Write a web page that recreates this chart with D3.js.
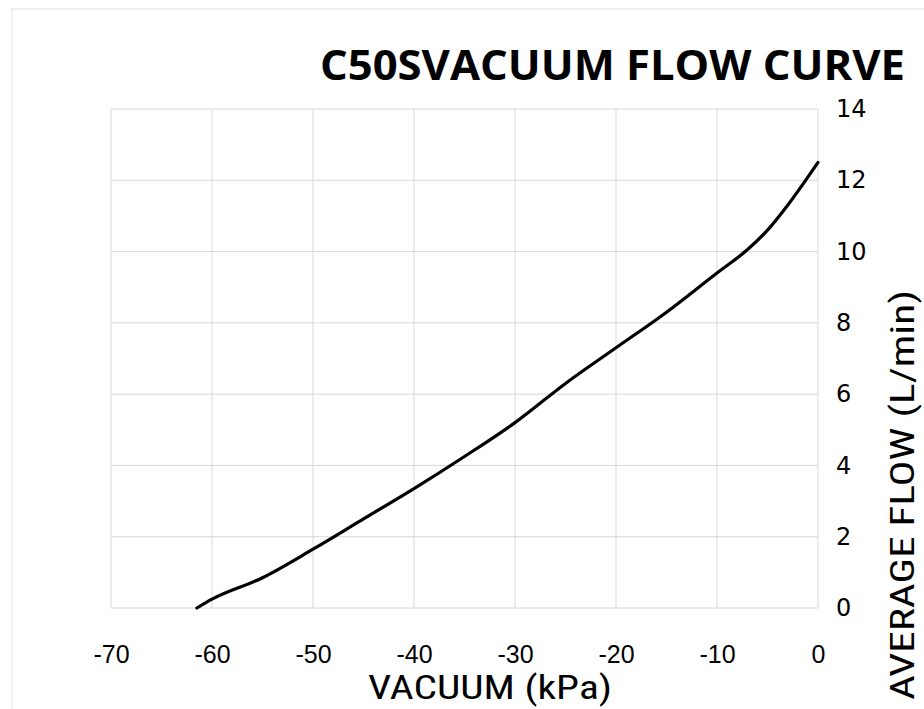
<!DOCTYPE html>
<html>
<head>
<meta charset="utf-8">
<script src="https://cdn.jsdelivr.net/npm/d3@7"></script>
<style>
  body { margin: 0; background: #fff; }
  svg { display: block; }
</style>
</head>
<body>
<svg id="chart" width="924" height="709"></svg>
<script>
// vacuum (kPa) and average flow (L/min)
const vacuum = [-61.5, -60, -55, -50, -45, -40, -35, -30, -25, -20, -15, -10, -7, -5, -3, 0];
const flow   = [0, 0.25, 0.85, 1.65, 2.5, 3.35, 4.25, 5.2, 6.3, 7.3, 8.3, 9.4, 10.05, 10.6, 11.3, 12.5];
const xTicks = [-70, -60, -50, -40, -30, -20, -10, 0];
const yTicks = [0, 2, 4, 6, 8, 10, 12, 14];

const svg = d3.select("#chart"),
  width = +svg.attr("width"),
  height = +svg.attr("height");

const margin = {left: 111, right: 106, top: 109, bottom: 101};

const x = d3.scaleLinear().domain([-70, 0]).range([margin.left, width - margin.right]);
const y = d3.scaleLinear().domain([0, 14]).range([height - margin.bottom, margin.top]);

const narrow = "'Liberation Sans Narrow', 'Roboto Condensed', Roboto, sans-serif";

// faint page frame (scan edge)
svg.append("line").attr("x1", 10).attr("x2", width).attr("y1", 9).attr("y2", 9)
  .attr("stroke", "#e4e4e4").attr("stroke-width", 1);
svg.append("line").attr("x1", 12).attr("x2", 12).attr("y1", 9).attr("y2", height)
  .attr("stroke", "#e4e4e4").attr("stroke-width", 1);

// gridlines
svg.append("g")
  .selectAll("line")
  .data(xTicks)
  .join("line")
    .attr("x1", d => x(d)).attr("x2", d => x(d))
    .attr("y1", y(0)).attr("y2", y(14))
    .attr("stroke", "#d9d9d9").attr("stroke-width", 1);
svg.append("g")
  .selectAll("line")
  .data(yTicks)
  .join("line")
    .attr("x1", x(-70)).attr("x2", x(0))
    .attr("y1", d => y(d)).attr("y2", d => y(d))
    .attr("stroke", "#d9d9d9").attr("stroke-width", 1);

// axes (labels only)
const xAxis = svg.append("g")
  .attr("transform", `translate(0,${y(0)})`)
  .call(d3.axisBottom(x).tickValues(xTicks).tickSize(0).tickPadding(55).tickFormat(d => String(d)));
xAxis.select(".domain").remove();
xAxis.selectAll("text")
  .style("font-family", "'Liberation Sans', Arial, sans-serif")
  .style("font-size", "25px")
  .attr("dy", 0)
  .attr("fill", "#000");

const yAxis = svg.append("g")
  .attr("transform", `translate(${x(0)},0)`)
  .call(d3.axisRight(y).tickValues(yTicks).tickSize(0).tickPadding(18).tickFormat(d => String(d)));
yAxis.select(".domain").remove();
yAxis.selectAll("text")
  .style("font-family", "'DejaVu Sans', Verdana, sans-serif")
  .style("font-size", "24px")
  .attr("fill", "#000");

// curve
const line = d3.line()
  .x((d, i) => x(vacuum[i]))
  .y(d => y(d))
  .curve(d3.curveMonotoneX);

svg.append("path")
  .datum(flow)
  .attr("d", line)
  .attr("fill", "none")
  .attr("stroke", "#000")
  .attr("stroke-width", 3.2)
  .attr("stroke-linecap", "round");

// title
svg.append("text")
  .attr("x", 320).attr("y", 80)
  .attr("textLength", 585)
  .attr("lengthAdjust", "spacingAndGlyphs")
  .style("font-family", "'Open Sans', sans-serif")
  .style("font-weight", "bold")
  .style("font-size", "41px")
  .text("C50SVACUUM FLOW CURVE");

// axis titles
svg.append("text")
  .attr("x", 368).attr("y", 699)
  .attr("textLength", 244)
  .attr("lengthAdjust", "spacingAndGlyphs")
  .style("font-family", narrow)
  .style("font-size", "33px")
  .text("VACUUM  (kPa)");

svg.append("text")
  .attr("transform", "translate(914,700) rotate(-90)")
  .attr("textLength", 410)
  .attr("lengthAdjust", "spacingAndGlyphs")
  .style("font-family", narrow)
  .style("font-size", "33px")
  .text("AVERAGE FLOW  (L/min)");
</script>
</body>
</html>
